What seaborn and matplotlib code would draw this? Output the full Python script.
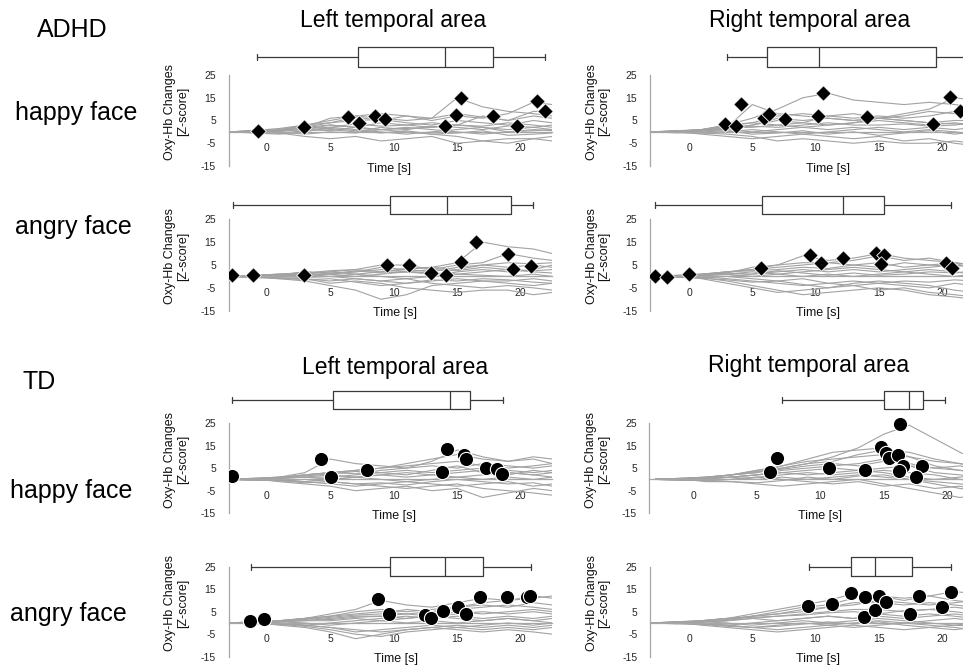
import matplotlib
matplotlib.use('Agg')
import numpy as np
import pandas as pd
import matplotlib.pyplot as plt
import seaborn as sns

sns.set_style('white')
plt.rcParams['font.family'] = ['Liberation Sans', 'DejaVu Sans']
plt.rcParams['text.color'] = 'black'

# time grid of the individual traces [s]
TIME = [-3, -1, 1, 3, 5, 7, 9, 11, 13, 15, 17, 19, 21, 22.5]

# ---------------- ADHD, happy face ----------------
ADHD_HAPPY_L_TRACES = [
    [0, 0.5, 1, 3, 5, 7, 6, 5, 6, 15, 11, 9, 8, 7],
    [0, 0.3, 0.5, 2, 6, 7, 8, 7, 5, 7, 6, 8, 13, 12],
    [0, -0.3, 0.2, 1, 3, 2, 4, 3, 2, 3, 7, 5, 9, 9],
    [0, 0.4, 1, 2.5, 1, 0, 2, 1, 2.5, 2, 1, 2.6, 2, 1],
    [0, -0.5, -1, 0, 2, 1, 0, -1, 0, 1, 2, 0, 1, 0.5],
    [0, 0.2, -0.5, -2, -3, -2, -4, -3, -2, -5, -4, -3, -3, -2],
    [0, 0, 0.5, 1, 0.5, 2, 1, 0, -1, -2, -4, -5, -3, -4],
    [0, 0.6, 1.5, 3, 4, 5, 5.5, 4, 3, 5, 4, 3, 5, 4],
    [0, -0.2, 0, -1, 0, -0.5, 1, 2, 1, 0, -1, 0, 0.5, 1],
    [0, 0.3, 0.7, 2, 3, 2, 1, 1.5, 2, 3, 2, 1, 2, 3],
    [0, 0.2, 0.8, 1.5, 2, 3.5, 2.5, 3, 4, 3, 2.5, 4, 3, 2],
    [0, -0.3, -0.6, 0.5, 1.5, 0.5, -0.5, 0.5, -1, -0.5, 0.5, -1.5, -1, -0.5],
    [0, 0.4, 1, 2, 4, 6.5, 5, 7, 6, 8, 6.5, 5, 7, 6],
]
ADHD_HAPPY_L_PEAK_T = [-0.7, 2.9, 6.4, 7.3, 8.5, 9.3, 14.0, 14.9, 15.3, 17.8, 19.7, 21.3, 21.9]
ADHD_HAPPY_L_PEAK_Z = [0.4, 2.3, 6.4, 4.0, 7.1, 5.5, 2.6, 7.4, 14.8, 7.0, 2.6, 13.7, 9.3]
ADHD_HAPPY_L_BOX = [-0.8, 7.2, 14.0, 17.8, 21.9]   # whisker low, q1, median, q3, whisker high

ADHD_HAPPY_R_TRACES = [
    [0, 0.5, 1, 3, 6, 10, 15, 17, 14, 13, 12, 13, 12, 11],
    [0, 0.3, 0.5, 2, 12, 8, 7, 6, 5, 6, 8, 10, 15, 14],
    [0, 0.2, 1, 3, 4, 7, 8, 7, 6, 7, 6, 7, 9, 10],
    [0, -0.3, 0.5, 1, 3, 6, 5, 6, 5, 6, 5, 4, 5, 5],
    [0, 0.4, 0.5, 2, 2, 3, 4, 3, 4, 5, 4, 3, 4, 3],
    [0, -0.2, -0.5, 0, 1, 0, -1, 0, 1, 2, 1, 2, 1, 2],
    [0, 0.1, -1, -2, -3, -2, -1, -2, -3, -2, -4, -3, -5, -6],
    [0, 0.3, 0.5, 1, 0, 1, 2, 1, 2, 1, 0, 1, 0, -1],
    [0, -0.4, -0.5, -1, -2, -4, -3, -4, -5, -4, -5, -5, -4, -5],
    [0, 0.2, 1, 2, 2.5, 2, 3, 4, 3, 3, 3.5, 2.5, 3, 4],
    [0, 0.2, 0.6, 1.5, 3, 5, 4, 7, 8, 6, 7, 9, 8, 9],
    [0, -0.3, 0, 0.5, -1, -0.5, 0.5, -1, 0, -1.5, -0.5, 0.5, -1, 0],
    [0, 0.3, 1, 2.5, 4, 3, 2, 3, 4, 6, 5, 4, 3.5, 3],
]
ADHD_HAPPY_R_PEAK_T = [2.85, 3.7, 4.1, 5.9, 6.3, 7.6, 10.2, 10.6, 14.1, 19.3, 20.6, 21.4]
ADHD_HAPPY_R_PEAK_Z = [3.5, 2.6, 12.3, 6.1, 7.9, 5.7, 7.1, 17.2, 6.7, 3.5, 15.2, 9.3]
ADHD_HAPPY_R_BOX = [3.0, 6.2, 10.3, 19.5, 25.0]

# ---------------- ADHD, angry face ----------------
ADHD_ANGRY_L_TRACES = [
    [0, 0.5, 1, 0.5, 1, 2, 4, 3, 4, 6, 15, 13, 12, 10],
    [0, 0.3, 0.5, 1, 2, 3, 5, 5, 3, 5, 6, 10, 8, 7],
    [0, -0.3, 0, 1, 0, 1, 2, 3, 2, 4, 5, 4, 5, 4],
    [0, 0.2, -1, -2, -4, -6, -10, -8, -4, -3, -2, -3, -4, -3],
    [0, -0.5, -1, -1, -3, -2, -3, -5, -6, -7, -6, -6, -8, -7],
    [0, 0.4, 0.5, 0.2, 1, 0, 1, 2, 1, 1, 2, 3, 2, 1.5],
    [0, -0.2, 0.5, 2, 1.5, 2, 3, 2, 1.5, 1, 0.5, 0, 1, 0],
    [0, 0.1, -0.5, -1, -2, -1, -2, -1, -3, -4, -5, -4, -5, -6],
    [0, 0.3, 1, 1.5, 2, 1, 0, -1, 0, 2, 3, 2, 3, 5],
    [0, -0.1, 0, -0.5, 0, -1, -2, -3, -2, -1, -2, -2, -1, -2],
    [0, 0.3, 0.8, 2, 1, 2.5, 1.5, 2, 3, 2.5, 4, 3, 2.5, 3],
    [0, -0.2, -0.6, -1.5, -1, -2.5, -4, -3, -1.5, -2, -1, -1.5, -2.5, -3],
    [0, 0.5, 1, 1.5, 2.5, 3, 2, 3.5, 4, 3, 5, 6, 5.5, 6],
]
ADHD_ANGRY_L_PEAK_T = [-2.7, -1.1, 2.95, 9.5, 11.2, 12.9, 14.1, 15.3, 16.5, 19.0, 19.4, 20.8]
ADHD_ANGRY_L_PEAK_Z = [0.5, 0.5, 0.8, 4.8, 4.8, 1.5, 0.6, 6.1, 15.0, 9.7, 3.3, 4.5]
ADHD_ANGRY_L_BOX = [-2.65, 9.7, 14.2, 19.2, 21.0]

ADHD_ANGRY_R_TRACES = [
    [0, 0.5, 1, 2, 3, 5, 9, 7, 8, 10, 8, 7, 6, 5],
    [0, 0.3, 0.5, 1.5, 4, 5, 6, 6, 7, 9, 7, 8, 6, 5],
    [0, 0.2, 1, 2, 3, 4, 5, 6, 5, 6, 4, 5, 6, 3],
    [0, -0.3, 0.5, 1, 2, 1, 2, 3, 4, 3, 2, 3, 2, 1],
    [0, 0.4, 0, -1, -2, -3, -4, -3, -2, -3, -4, -5, -3, -4],
    [0, -0.2, -0.5, -2, -4, -6, -8, -7, -6, -5, -6, -8, -9, -10],
    [0, 0.1, 0.5, 1, 0, 1, 0, 1, 0, 1, 2, 1, 0, 1],
    [0, 0.3, -1, -3, -5, -7, -6, -5, -3, -2, -3, -4, -6, -7],
    [0, -0.4, -0.5, 0, 1, 2, 3, 2, 3, 2, 3, 4, 5, 4],
    [0, 0.2, 0.5, 0, -1, -2, -1, -3, -4, -6, -5, -7, -8, -9],
    [0, 0.3, 0.8, 2, 2.5, 3, 4, 3.5, 5, 4, 6, 5, 4.5, 5],
    [0, -0.2, -0.8, -1.5, -2.5, -2, -3.5, -5, -4, -3, -2, -2.5, -1.5, -2],
    [0, 0.4, 1, 1.5, 1, 2.5, 1.5, 0.5, 1.5, 0.5, 1, 2, 1.5, 2.5],
]
ADHD_ANGRY_R_PEAK_T = [-2.7, -1.7, 0.0, 5.7, 9.6, 10.4, 12.2, 14.8, 15.4, 15.2, 20.3, 20.8]
ADHD_ANGRY_R_PEAK_Z = [0.2, -0.2, 0.9, 3.9, 9.3, 5.9, 8.1, 10.3, 9.3, 5.4, 5.9, 3.9]
ADHD_ANGRY_R_BOX = [-2.7, 5.8, 12.2, 15.4, 20.7]

# ---------------- TD, happy face ----------------
TD_HAPPY_L_TRACES = [
    [0, 0.5, 1, 3, 9, 7, 6, 5, 8, 13, 10, 8, 9, 7],
    [0, 0.3, 0.5, 2, 3, 4, 5, 7, 9, 11, 9, 8, 10, 9],
    [0, 0.2, 1, 2, 3, 4, 5, 6, 7, 8, 6, 5, 6, 7],
    [0, -0.3, 0.5, 1, 1, 2, 3, 4, 3, 4, 5, 4, 3, 4],
    [0, 0.4, 0, -1, 0, 1, 2, 1, 2, 3, 4, 3, 2, 3],
    [0, -0.2, -0.5, -1, -2, -3, -2, -1, -2, -3, -2, -1, -3, -2],
    [0, 0.1, 0.5, 1, 0, 1, 0, -1, 0, 1, 0, 1, 0, 1],
    [0, 0.3, -1, -2, -3, -5, -4, -3, -5, -4, -8, -6, -4, -5],
    [0, -0.4, -0.5, 0, -1, -2, -3, -4, -3, -2, -4, -5, -6, -7],
    [0, 0.2, 0.5, 1, 2, 1, 2, 3, 2, 1, 2, 3, 2, 1],
    [0, 0.3, 0.8, 2, 3, 2.5, 4, 5, 6, 5, 7, 6, 5, 6],
    [0, -0.2, -0.6, -1.5, -1, -2, -1.5, -2.5, -1, 0, -1, -2, -1.5, -3],
    [0, 0.5, 1, 1.5, 2.5, 3.5, 3, 2, 4, 6, 3, 2, 4, 3],
]
TD_HAPPY_L_PEAK_T = [-2.7, 4.25, 5.1, 7.9, 13.8, 14.2, 15.5, 15.7, 17.3, 18.1, 18.5]
TD_HAPPY_L_PEAK_Z = [1.3, 9.2, 1.0, 4.2, 3.2, 13.3, 10.8, 8.9, 5.0, 4.6, 2.6]
TD_HAPPY_L_BOX = [-2.76, 5.2, 14.4, 16.0, 18.6]

TD_HAPPY_R_TRACES = [
    [0, 0.5, 1, 2, 3, 5, 7, 10, 14, 20, 24, 18, 12, 8],
    [0, 0.3, 0.5, 2, 4, 6, 9, 12, 13, 14, 10, 6, 4, 3],
    [0, 0.2, 1, 2, 3, 6, 8, 9, 10, 11, 10, 8, 7, 6],
    [0, -0.3, 0.5, 1, 2, 4, 5, 6, 7, 9, 6, 5, 4, 3],
    [0, 0.4, 0, 1, 2, 3, 4, 5, 4, 5, 6, 3, 2, 1],
    [0, -0.2, -0.5, 0, 1, 2, 3, 2, 3, 4, 3, 2, 0, -1],
    [0, 0.1, 0.5, 1, 0, 1, 0, 1, 2, 1, 0, -1, -2, -3],
    [0, 0.3, -1, -1, -2, -3, -2, -1, 0, -2, -4, -6, -8, -7],
    [0, -0.4, -0.5, 0, 1, 0, -1, -2, -1, -3, -2, -4, -3, -5],
    [0, 0.2, 0.5, 1, 2, 3, 2, 3, 4, 3, 1, 0, 1, 2],
    [0, 0.3, 0.8, 2, 4, 5, 7, 8, 11, 13, 12, 9, 7, 5],
    [0, -0.2, -0.6, -1, -1.5, -0.5, 1, 0, 1.5, 2, 0, -2, -4, -5],
    [0, 0.5, 1, 2, 3.5, 4.5, 6, 7, 6, 8, 7, 5, 6, 4],
]
TD_HAPPY_R_PEAK_T = [6.0, 6.6, 10.7, 13.5, 14.8, 15.2, 15.4, 16.1, 16.3, 16.5, 16.2, 18.0, 17.5]
TD_HAPPY_R_PEAK_Z = [3.2, 9.3, 5.0, 4.1, 14.4, 11.8, 9.6, 10.7, 24.7, 5.9, 3.7, 5.9, 1.2]
TD_HAPPY_R_BOX = [7.0, 15.0, 17.0, 18.1, 19.8]

# ---------------- TD, angry face ----------------
TD_ANGRY_L_TRACES = [
    [0, 0.5, 1, 2, 4, 6, 10, 8, 7, 9, 11, 10, 12, 11],
    [0, 0.3, 0.5, 2, 3, 5, 6, 5, 6, 7, 9, 10, 11, 12],
    [0, 0.2, 1, 2, 3, 4, 5, 4, 5, 6, 7, 8, 7, 6],
    [0, -0.3, 0.5, 1, 2, 3, 3, 4, 3, 4, 5, 4, 5, 4],
    [0, 0.4, 0, -1, 0, 1, 2, 3, 2, 3, 2, 3, 2, 3],
    [0, -0.2, -0.5, -1, -2, -4, -3, -2, -1, -2, -1, 0, -1, 0],
    [0, 0.1, 0.5, 0, -1, 0, 1, 0, 1, 0, 1, 2, 1, 0],
    [0, 0.3, -1, -2, -4, -7, -5, -3, -2, -1, -2, -1, -2, -1],
    [0, -0.4, -0.5, -1, -2, -3, -4, -3, -2, -3, -4, -3, -4, -5],
    [0, 0.2, 0.5, 1, 1, 2, 1, 2, 3, 2, 1, 2, 1, 2],
    [0, 0.3, 0.8, 1.5, 2.5, 3.5, 4, 6, 5, 7, 8, 7, 9, 8],
    [0, -0.2, -0.6, -1.5, -3, -5, -6, -4, -3, -2, -3, -2, -3, -2],
    [0, 0.5, 1, 2, 1.5, 2.5, 3, 2, 3.5, 5, 4, 5, 6, 5],
]
TD_ANGRY_L_PEAK_T = [-1.3, -0.2, 8.8, 9.6, 12.5, 12.9, 13.9, 15.1, 15.7, 16.8, 18.9, 20.5, 20.7]
TD_ANGRY_L_PEAK_Z = [0.9, 1.8, 10.6, 3.8, 3.5, 2.1, 5.4, 7.0, 4.0, 11.4, 11.5, 11.6, 11.8]
TD_ANGRY_L_BOX = [-1.2, 9.7, 14.0, 17.0, 20.8]

TD_ANGRY_R_TRACES = [
    [0, 0.5, 1, 2, 4, 6, 8, 10, 13, 12, 11, 12, 14, 13],
    [0, 0.3, 0.5, 1, 3, 5, 7, 8, 11, 12, 10, 12, 10, 9],
    [0, 0.2, 1, 2, 3, 4, 6, 7, 9, 9, 8, 9, 8, 7],
    [0, -0.3, 0.5, 1, 2, 3, 4, 5, 6, 6, 5, 6, 7, 6],
    [0, 0.4, 0, -1, 0, 1, 2, 3, 2, 4, 3, 4, 3, 2],
    [0, -0.2, -0.5, -1, -2, -3, -2, -1, 0, 1, 0, 1, 2, 1],
    [0, 0.1, 0.5, 0, -1, 0, 1, 0, 1, 2, 1, 0, -1, 0],
    [0, 0.3, -1, -2, -3, -4, -3, -2, -1, -2, -3, -2, -3, -2],
    [0, -0.4, -0.5, -1, -2, -1, 0, -1, -2, -1, 0, -1, -2, -3],
    [0, 0.2, 0.5, 1, 2, 1, 2, 3, 2, 3, 2, 3, 4, 3],
    [0, 0.3, 0.8, 1.5, 3, 4, 5, 7, 8, 10, 9, 8, 9, 10],
    [0, -0.2, -0.6, -1.5, -2, -1.5, -0.5, 0.5, -0.5, 0.5, -1, -2, -1, -1.5],
    [0, 0.5, 1, 2, 2.5, 3, 3.5, 4.5, 5, 4, 5.5, 6, 5, 4],
]
TD_ANGRY_R_PEAK_T = [9.4, 11.3, 12.8, 13.8, 13.9, 15.0, 14.7, 15.6, 17.5, 18.2, 20.0, 20.7]
TD_ANGRY_R_PEAK_Z = [7.5, 8.4, 13.4, 2.5, 11.4, 12.0, 5.8, 9.4, 3.8, 12.0, 7.2, 13.9]
TD_ANGRY_R_BOX = [9.5, 12.8, 14.7, 17.6, 20.7]

TITLES = ['Left temporal area', 'Right temporal area']
GROUPS = ['ADHD', 'TD']
FACES = ['happy face', 'angry face']
Y_TICKS = [-15, -5, 5, 15, 25]
X_TICKS = [0, 5, 10, 15, 20]

# ---- layout (pixels in a 963 x 668 figure) ----
W, H = 963, 668
fig = plt.figure(figsize=(W / 100, H / 100), dpi=100)

# rows: pixel y of the 25 and -15 gridlines, box centre (data), box height (data)
ROWS = [(75, 166, 32.9, 8.8), (219.3, 310.7, 31.3, 8.2),
        (422.9, 513.3, 35.3, 8.0), (566.7, 656.7, 25.0, 8.6)]
# columns: pixel x of t=0, px per second, xlim
COLS = [(266.7, 12.7, (-3.0, 22.5)), (689.0, 12.65, (-3.1, 25.3))]

panels = [
    (0, 0, ADHD_HAPPY_L_TRACES, ADHD_HAPPY_L_PEAK_T, ADHD_HAPPY_L_PEAK_Z, ADHD_HAPPY_L_BOX, 'D', 9.6),
    (0, 1, ADHD_HAPPY_R_TRACES, ADHD_HAPPY_R_PEAK_T, ADHD_HAPPY_R_PEAK_Z, ADHD_HAPPY_R_BOX, 'D', 11.0),
    (1, 0, ADHD_ANGRY_L_TRACES, ADHD_ANGRY_L_PEAK_T, ADHD_ANGRY_L_PEAK_Z, ADHD_ANGRY_L_BOX, 'D', 10.1),
    (1, 1, ADHD_ANGRY_R_TRACES, ADHD_ANGRY_R_PEAK_T, ADHD_ANGRY_R_PEAK_Z, ADHD_ANGRY_R_BOX, 'D', 10.2),
    (2, 0, TD_HAPPY_L_TRACES, TD_HAPPY_L_PEAK_T, TD_HAPPY_L_PEAK_Z, TD_HAPPY_L_BOX, 'o', 10.0),
    (2, 1, TD_HAPPY_R_TRACES, TD_HAPPY_R_PEAK_T, TD_HAPPY_R_PEAK_Z, TD_HAPPY_R_BOX, 'o', 10.0),
    (3, 0, TD_ANGRY_L_TRACES, TD_ANGRY_L_PEAK_T, TD_ANGRY_L_PEAK_Z, TD_ANGRY_L_BOX, 'o', 10.2),
    (3, 1, TD_ANGRY_R_TRACES, TD_ANGRY_R_PEAK_T, TD_ANGRY_R_PEAK_Z, TD_ANGRY_R_BOX, 'o', 10.2),
]

AXIS_GREY = '#a6a6a6'
TRACE_GREY = '#a2a2a2'
BOX_COL = '#3a3a3a'
YMIN, YMAX = -15, 41

for r, c, traces, pk_t, pk_z, box, marker, xlab in panels:
    ytop, ybot, box_y, box_h = ROWS[r]
    x0, ppu, xlim = COLS[c]
    if r == 2 and c == 1:
        x0, ppu, xlim = 693.3, 12.7, (-3.45, 25.0)
    ypu = (ybot - ytop) / 40.0
    top_px = ytop - (YMAX - 25) * ypu
    left_px = x0 + xlim[0] * ppu
    width_px = (xlim[1] - xlim[0]) * ppu
    ax = fig.add_axes([left_px / W, 1 - ybot / H, width_px / W, (ybot - top_px) / H])

    df = pd.DataFrame([(i, t, z) for i, tr in enumerate(traces) for t, z in zip(TIME, tr)],
                      columns=['subject', 'time', 'z'])
    sns.lineplot(data=df, x='time', y='z', units='subject', estimator=None,
                 color=TRACE_GREY, linewidth=0.8, legend=False, ax=ax)
    if marker == 'D':
        sns.scatterplot(x=pk_t, y=pk_z, marker='D', s=62, color='black',
                        edgecolor='white', linewidth=0.6, zorder=4, ax=ax)
    else:
        sns.scatterplot(x=pk_t, y=pk_z, marker='o', s=105, color='black',
                        edgecolor='white', linewidth=0.8, zorder=4, ax=ax)

    stats = [dict(whislo=box[0], q1=box[1], med=box[2], q3=box[3], whishi=box[4], fliers=[])]
    lp = dict(color=BOX_COL, linewidth=0.9)
    ax.bxp(stats, positions=[box_y], widths=box_h, orientation='horizontal',
           showfliers=False, manage_ticks=False, capwidths=[2.6],
           boxprops=lp, whiskerprops=lp, capprops=lp, medianprops=lp)

    # ticks first: set_xticks would otherwise widen the view limits
    ax.set_yticks(Y_TICKS)
    ax.set_yticklabels([str(v) for v in Y_TICKS])
    ax.set_xticks(X_TICKS)
    ax.set_xticklabels([str(v) for v in X_TICKS])
    ax.set_xticks(range(-3, 23), minor=True)
    ax.set_xlim(*xlim)
    ax.set_ylim(YMIN, YMAX)
    ax.set_xlabel('')
    ax.set_ylabel('')
    for s in ['top', 'right']:
        ax.spines[s].set_visible(False)
    ax.spines['left'].set_bounds(-15, 25)
    ax.spines['bottom'].set_position(('data', 0))
    for s in ['left', 'bottom']:
        ax.spines[s].set_color(AXIS_GREY)
        ax.spines[s].set_linewidth(0.9)
    ax.tick_params(axis='y', direction='out', length=3, width=0.8, color=AXIS_GREY,
                   labelsize=7.5, labelcolor='#262626', pad=6)
    ax.tick_params(axis='x', which='major', direction='in', length=3, width=0.8,
                   color=AXIS_GREY, labelsize=7.5, labelcolor='#262626', pad=8)
    ax.tick_params(axis='x', which='minor', direction='in', length=2.5, width=0.7,
                   color=AXIS_GREY)

    ax.text(xlab, YMIN - 1.2, 'Time [s]', ha='center', va='center', fontsize=9,
            color='#111111', clip_on=False)
    ax.text(-52 / width_px, 8.8, 'Oxy-Hb Changes\n[Z-score]', rotation=90,
            ha='center', va='center', fontsize=9, linespacing=1.05, color='#111111',
            transform=ax.get_yaxis_transform(), clip_on=False)

# column titles
fig.text(393 / W, 1 - 27.3 / H, TITLES[0], ha='center', va='baseline', fontsize=16.5)
fig.text(809.7 / W, 1 - 27.3 / H, TITLES[1], ha='center', va='baseline', fontsize=16.5)
fig.text(395 / W, 1 - 374.3 / H, TITLES[0], ha='center', va='baseline', fontsize=16.5)
fig.text(809 / W, 1 - 371.7 / H, TITLES[1], ha='center', va='baseline', fontsize=16.5)

# group / condition labels
fig.text(37 / W, 1 - 36.7 / H, GROUPS[0], ha='left', va='baseline', fontsize=18)
fig.text(15 / W, 1 - 120 / H, FACES[0], ha='left', va='baseline', fontsize=18)
fig.text(15 / W, 1 - 234 / H, FACES[1], ha='left', va='baseline', fontsize=18)
fig.text(22 / W, 1 - 389.3 / H, GROUPS[1], ha='left', va='baseline', fontsize=18)
fig.text(10 / W, 1 - 498.3 / H, FACES[0], ha='left', va='baseline', fontsize=18)
fig.text(10 / W, 1 - 620.7 / H, FACES[1], ha='left', va='baseline', fontsize=18)

fig.savefig('out.png', dpi=100, facecolor='white')
